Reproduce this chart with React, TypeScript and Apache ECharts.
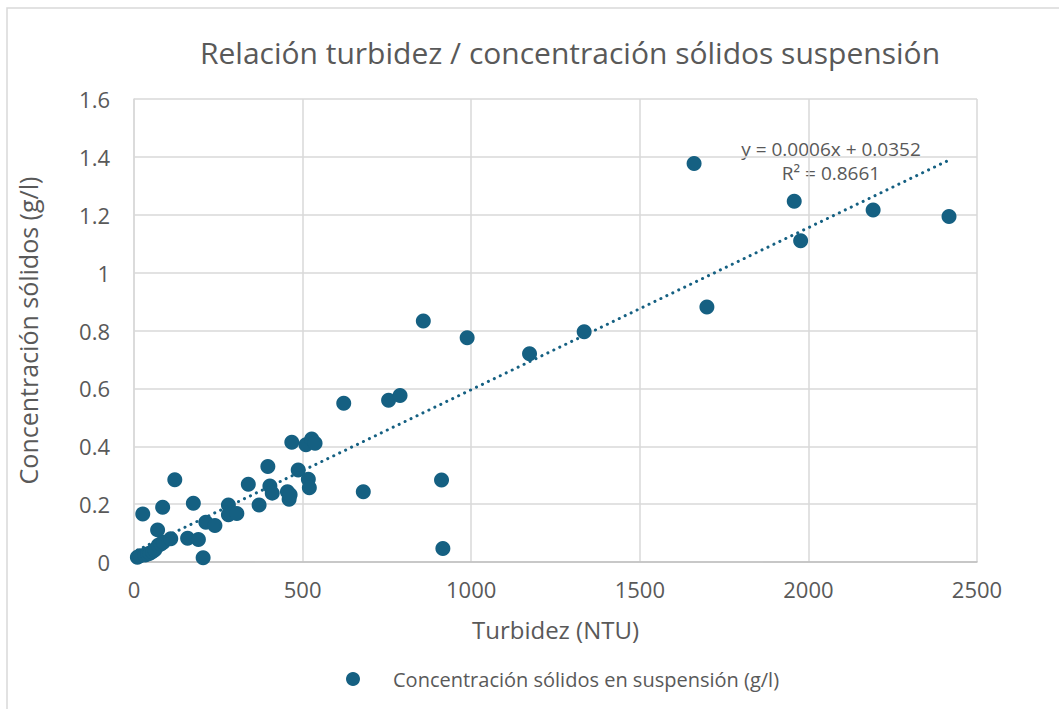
import React, { useEffect, useRef } from "react";
import * as echarts from "echarts";

const titleText = "Relación turbidez / concentración sólidos suspensión";
const xAxisName = "Turbidez (NTU)";
const yAxisName = "Concentración sólidos (g/l)";
const seriesName = "Concentración sólidos en suspensión (g/l)";

const turbidity = [
  10, 18, 26, 33, 40, 47, 55, 62, 70, 72, 80, 87, 85, 109, 121, 159, 176, 191, 205, 213,
  240, 280, 280, 305, 339, 371, 397, 403, 410, 455, 460, 463, 468, 487, 510, 517, 520, 527,
  537, 622, 680, 755, 789, 858, 912, 916, 988, 1173, 1335, 1661, 1699, 1958, 1977, 2192, 2417,
];
const solids = [
  0.016, 0.022, 0.166, 0.024, 0.028, 0.03, 0.036, 0.042, 0.111, 0.058, 0.062, 0.068, 0.189,
  0.08, 0.284, 0.082, 0.203, 0.078, 0.015, 0.137, 0.126, 0.197, 0.163, 0.168, 0.269, 0.197,
  0.33, 0.263, 0.238, 0.243, 0.217, 0.232, 0.414, 0.318, 0.405, 0.286, 0.257, 0.425, 0.41,
  0.549, 0.243, 0.559, 0.575, 0.833, 0.283, 0.047, 0.775, 0.72, 0.796, 1.377, 0.881, 1.247,
  1.11, 1.216, 1.194,
];

// Linear trendline endpoints (Excel trendline, y = 0.0006x + 0.0352)
const trendX = [10, 2417];
const trendY = [0.041, 1.389];
const trendLabel = ["y = 0.0006x + 0.0352", "R² = 0.8661"];

const xTicks = { min: 0, max: 2500, interval: 500 };
const yTicks = { min: 0, max: 1.6, interval: 0.2 };

const COLOR = "#156082";
const TEXT = "#595959";
const FONT = "'Open Sans', Roboto, sans-serif";

export default function App() {
  const ref = useRef<HTMLDivElement>(null);
  useEffect(() => {
    if (!ref.current) return;
    const chart = echarts.init(ref.current, undefined, { renderer: "svg" });
    const points = turbidity.map((x, i) => [x, solids[i]]);
    const trend = trendX.map((x, i) => [x, trendY[i]]);
    chart.setOption({
      animation: false,
      backgroundColor: "#ffffff",
      textStyle: { fontFamily: FONT },
      title: {
        text: titleText,
        left: 565,
        top: 32,
        textAlign: "center",
        textStyle: { fontFamily: FONT, fontSize: 30, fontWeight: "normal", color: TEXT },
      },
      grid: { left: 134, right: 82, top: 99, bottom: 147, containLabel: false },
      legend: {
        bottom: 15,
        left: 341,
        icon: "circle",
        itemWidth: 14,
        itemHeight: 14,
        data: [seriesName],
        textStyle: { fontFamily: FONT, fontSize: 20, color: TEXT, padding: [0, 0, 0, 28] },
      },
      xAxis: {
        type: "value",
        min: xTicks.min,
        max: xTicks.max,
        interval: xTicks.interval,
        name: xAxisName,
        nameLocation: "middle",
        nameGap: 55,
        nameTextStyle: { fontFamily: FONT, fontSize: 24, color: TEXT },
        axisLine: { show: true, lineStyle: { color: "#bfbfbf", width: 1.5 } },
        axisTick: { show: false },
        axisLabel: {
          fontFamily: FONT,
          fontSize: 22,
          color: TEXT,
          margin: 16,
          formatter: (v: number) => String(v),
        },
        splitLine: { show: true, lineStyle: { color: "#d9d9d9", width: 1.5 } },
      },
      yAxis: {
        type: "value",
        min: yTicks.min,
        max: yTicks.max,
        interval: yTicks.interval,
        name: yAxisName,
        nameLocation: "middle",
        nameGap: 94,
        nameTextStyle: { fontFamily: FONT, fontSize: 25, color: TEXT },
        axisLine: { show: true, lineStyle: { color: "#d9d9d9", width: 1.5 } },
        axisTick: { show: false },
        axisLabel: {
          fontFamily: FONT,
          fontSize: 22,
          color: TEXT,
          margin: 24,
          formatter: (v: number) => String(Math.round(v * 10) / 10),
        },
        splitLine: { show: true, lineStyle: { color: "#d9d9d9", width: 1.5 } },
      },
      series: [
        {
          name: seriesName,
          type: "scatter",
          data: points,
          symbol: "circle",
          symbolSize: 15,
          itemStyle: { color: COLOR, opacity: 1 },
          z: 3,
        },
        {
          name: "trend",
          type: "line",
          data: trend,
          symbol: "none",
          silent: true,
          lineStyle: { color: COLOR, width: 3, type: [0.1, 6.5], cap: "round" },
          z: 4,
        },
      ],
      graphic: [
        {
          type: "rect",
          shape: { x: 7, y: 8, width: 1070, height: 720 },
          style: { fill: "none", stroke: "#d9d9d9", lineWidth: 1.5 },
          z: -10,
          silent: true,
        },
        {
          type: "text",
          x: 831,
          y: 161,
          style: {
            text: trendLabel.join("\n"),
            fill: TEXT,
            fontFamily: FONT,
            fontSize: 19,
            lineHeight: 24,
            textAlign: "center",
            textVerticalAlign: "middle",
          },
        },
      ],
    });
    return () => chart.dispose();
  }, []);
  return (
    <div
      ref={ref}
      style={{ position: "fixed", left: 0, top: 0, width: 1059, height: 709 }}
    />
  );
}
